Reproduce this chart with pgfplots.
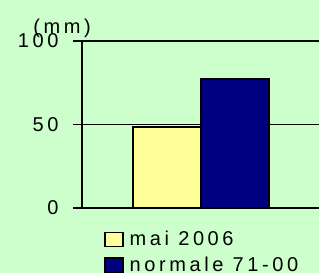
\documentclass[border=0pt]{standalone}
\usepackage{pgfplots}
\pgfplotsset{compat=1.18}
\usepackage{fontspec}
\setmainfont{Liberation Sans}[LetterSpace=18]
\definecolor{bg}{HTML}{CCFFCC}
\definecolor{yel}{HTML}{FFFF99}
\definecolor{nav}{HTML}{000080}
\begin{document}
\begin{tikzpicture}[font=\fontsize{20bp}{23bp}\selectfont]
\path[use as bounding box, clip] (0bp,0bp) rectangle (319bp,273bp);
\fill[bg] (0bp,0bp) rectangle (319bp,273bp);
\begin{axis}[
  at={(82bp,65bp)}, anchor=south west,
  scale only axis, width=238bp, height=167bp,
  xmin=0, xmax=1, ymin=0, ymax=100,
  clip=false,
  xtick=\empty, ytick={0,50,100},
  ytick pos=left, tick align=outside, major tick length=9bp,
  /pgf/number format/assume math mode=true,
  ymajorgrids, grid style={black, line width=1.6bp},
  axis line style={line width=1.8bp},
  every tick/.style={black, line width=1.6bp},
  yticklabel style={anchor=east, xshift=-11bp},
  ybar=0pt, bar width=68bp,
  legend style={at={(axis description cs:0.093,-0.126)}, anchor=north west,
    draw=none, fill=none, row sep=6bp, inner sep=0pt,
    /tikz/every even column/.append style={column sep=0bp}},
  legend cell align=left,
]
\addplot[fill=yel, draw=black, line width=1.8bp,
  legend image code/.code={\draw[fill=yel, draw=black, line width=1.4bp] (0bp,-7bp) rectangle (18bp,7bp);}]
  coordinates {(0.5,48.5)};
\addlegendentry{\hspace{4bp}mai 2006}
\addplot[fill=nav, draw=black, line width=1.8bp,
  legend image code/.code={\draw[fill=nav, draw=black, line width=1.4bp] (0bp,-7bp) rectangle (18bp,7bp);}]
  coordinates {(0.5,77.2)};
\addlegendentry{\hspace{4bp}normale 71-00}
\node[anchor=center, inner sep=0pt, yshift=-3bp] at (rel axis cs:-0.084,1.096) {(mm)};
\end{axis}
\end{tikzpicture}
\end{document}
